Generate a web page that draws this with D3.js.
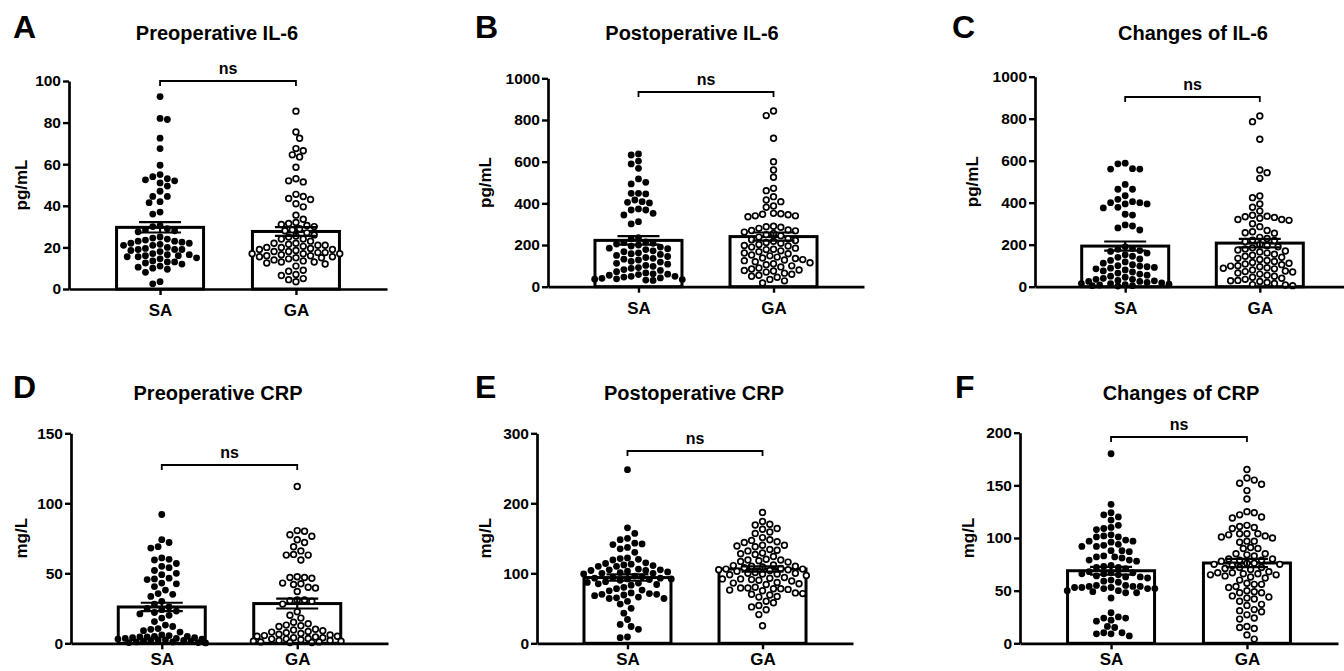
<!DOCTYPE html>
<html>
<head>
<meta charset="utf-8">
<script src="https://cdn.jsdelivr.net/npm/d3@7"></script>
<style>
  html, body { margin: 0; padding: 0; background: #fff; }
  svg { display: block; font-family: "Liberation Sans", Arial, Helvetica, sans-serif; }
</style>
</head>
<body>
<svg id="fig" width="1344" height="671"></svg>
<script>
// ---- data -------------------------------------------------------------
const groups = ["SA", "GA"];

// Preoperative IL-6 (pg/mL)
const preIL6_SA = [92.5,82,81.5,72.5,67.5,59.5,55,54,53,52.5,52,51,49.5,47,44.5,44.5,42,41.5,37,36,30.5,30,29,28.5,28,27.5,25,24.5,24,23.5,23,23,22.5,22,22,21.5,21,21,20,19.5,19,19,19,18.5,18,17,16.5,16.5,16,16,15.5,15.5,15,14.5,13.5,13,13,12.5,12,11,10.5,10,9.5,8,3.5,2.5];
const preIL6_GA = [85.5,75.5,72.5,67.5,66.5,64.5,63.5,58.5,53,52,51.5,45.5,44.5,43.5,43,41,39.5,35.5,33.5,32,31.5,31,30.5,30,29,28.5,28,27,26,25.5,25,24,24,23,22,22,21.5,21,21,20.5,20,20,19.5,19,19,18.5,18,18,17.5,17.5,17,17,17,16.5,16,16,15.5,15.5,15,15,14.5,14,13.5,13,13,12.5,12,11,9,8.5,7,6.5,5,4.5,3.5];

// Postoperative IL-6 (pg/mL)
const postIL6_SA = [637,632,603,589,568,517,501,493,448,448,445,416,408,405,402,373,368,368,352,344,312,301,235,230,215,212,208,205,200,195,190,185,182,178,172,168,162,158,155,150,145,140,136,132,128,122,118,112,108,102,98,92,88,82,78,72,66,62,60,58,55,50,50,46,42,40,38,36,34,32,30];
const postIL6_GA = [843,821,712,600,560,525,472,461,432,416,408,387,381,352,350,348,345,340,340,336,290,288,285,280,272,270,268,262,255,250,245,238,230,225,222,218,212,208,202,198,195,190,185,180,178,172,168,162,158,152,148,142,138,135,130,128,125,120,115,110,105,100,95,90,85,80,78,75,70,65,60,55,50,45,35,28,18];

// Change of IL-6 (pg/mL)
const changeIL6_SA = [588,585,562,560,560,487,464,464,433,416,405,400,400,394,394,378,375,345,341,294,289,280,270,190,182,178,172,168,160,152,145,140,132,125,118,112,105,100,98,95,92,88,85,80,75,70,65,60,55,50,45,40,35,35,30,28,25,25,20,18,15,15,12,10,8,5,5,3];
const changeIL6_GA = [813,786,702,556,543,516,432,424,394,378,360,340,336,333,330,326,320,320,316,300,286,268,262,257,255,235,230,222,220,215,200,195,190,185,180,175,170,165,160,155,150,145,140,135,130,125,120,115,112,108,105,100,98,95,90,88,85,80,75,72,70,65,60,55,50,45,40,35,30,28,25,20,15,10,8,5];

// Preoperative CRP (mg/L)
const preCRP_SA = [92,74,72,69,68,61,60,59.5,57,55,54,52,50,49,46.5,46,45.5,43,42.5,40.5,38,35.5,35,33.5,30,28,26,25,24,23,22,21,20,18,15.5,13,12,10.5,10,9,8,6,5.5,5,5,4.5,4.5,4,4,3.5,3.5,3,3,2.5,2.5,2,2,1.5,1.5,1,1,0.5,0.5,0.3];
const preCRP_GA = [112,80.5,80,77.5,76.5,74,72,69,66,63.5,63,63,59.5,47.5,47,47,46.5,43,42.5,42,40,39.5,37,31,31,30.5,30,28,22.5,20,18,15,14,13,12.5,12,10,9.5,9,8.5,8,7.5,7,6.5,6,5.5,5,5,4.5,4,4,3.5,3,3,2.5,2,2,1.5,1.5,1,1,0.5,0.5];

// Postoperative CRP (mg/L)
const postCRP_SA = [248,165,157,150,148,143,142,141,137,135,130,122,121,120,119,115,114,113,112,111,110,110,106,105,105,104,104,103,102,101,100,100,99,96,95,94,93,93,92,92,91,90,88,87,86,85,84,83,80,78,76,75,72,71,70,70,69,68,66,65,64,64,60,56,50,43,34,27,24,20,9,8];
const postCRP_GA = [187,174,170,169,164,163,159,157,151,148,147,145,144,140,140,139,138,134,133,132,129,128,127,124,120,119,119,118,117,116,112,111,110,110,109,108,107,106,106,105,105,104,103,101,100,100,99,99,98,97,94,93,92,92,91,90,89,87,86,85,84,80,79,79,78,78,77,76,75,72,71,70,69,67,66,60,58,54,52,48,41,25];

// Change of CRP (mg/L)
const changeCRP_SA = [180,132,124,122,120,117,112,110,109,108,103,102,101,101,98,97,97,96,94,93,92,92,88,88,87,83,82,82,81,79,79,78,74,73,72,72,71,68,67,67,66,66,65,64,63,63,62,60,59,58,55,55,54,54,54,53,53,53,52,52,52,50,50,49,48,48,43,29,25,24,24,22,21,16,15,10,10,9,9,7];
const changeCRP_GA = [165,157,155,152,151,145,137,125,124,122,120,119,112,111,110,109,104,104,104,103,102,101,100,97,97,96,91,90,90,85,85,84,83,80,80,79,79,78,76,76,75,75,74,72,72,71,70,68,67,67,66,66,65,65,64,63,62,60,57,56,56,54,53,50,49,48,48,45,44,43,42,40,37,36,32,31,30,27,24,23,16,15,14,8,4];

// y-axis tick values
const ticksPreIL6 = [0, 20, 40, 60, 80, 100];
const ticksIL6 = [0, 200, 400, 600, 800, 1000];
const ticksPreCRP = [0, 50, 100, 150];
const ticksPostCRP = [0, 100, 200, 300];
const ticksChangeCRP = [0, 50, 100, 150, 200];

// ---- panel layout ----------------------------------------------------
const panels = [
  { letter: "A", title: "Preoperative IL-6",  unit: "pg/mL", sa: preIL6_SA,    ga: preIL6_GA,    ticks: ticksPreIL6,
    axisX: 69,   xEnd: 387,  y0: 289,   yTop: 81,    letterX: 13,  titleX: 217,  unitX: 21,  bracketY: 81,  row: 0 },
  { letter: "B", title: "Postoperative IL-6", unit: "pg/mL", sa: postIL6_SA,   ga: postIL6_GA,   ticks: ticksIL6,
    axisX: 548,  xEnd: 864,  y0: 286.7, yTop: 78.3,  letterX: 475, titleX: 692,  unitX: 485, bracketY: 92,  row: 0 },
  { letter: "C", title: "Changes of IL-6",    unit: "pg/mL", sa: changeIL6_SA, ga: changeIL6_GA, ticks: ticksIL6,
    axisX: 1035, xEnd: 1350, y0: 286.7, yTop: 76.7,  letterX: 952, titleX: 1193, unitX: 972, bracketY: 97,  row: 0 },
  { letter: "D", title: "Preoperative CRP",   unit: "mg/L",  sa: preCRP_SA,    ga: preCRP_GA,    ticks: ticksPreCRP,
    axisX: 71,   xEnd: 388,  y0: 643.3, yTop: 433.3, letterX: 13,  titleX: 218,  unitX: 21,  bracketY: 465, row: 1 },
  { letter: "E", title: "Postoperative CRP",  unit: "mg/L",  sa: postCRP_SA,   ga: postCRP_GA,   ticks: ticksPostCRP,
    axisX: 537,  xEnd: 853,  y0: 643.3, yTop: 433.3, letterX: 475, titleX: 694,  unitX: 485, bracketY: 451, row: 1 },
  { letter: "F", title: "Changes of CRP",     unit: "mg/L",  sa: changeCRP_SA, ga: changeCRP_GA, ticks: ticksChangeCRP,
    axisX: 1020, xEnd: 1338, y0: 643.3, yTop: 432.7, letterX: 955, titleX: 1181, unitX: 968, bracketY: 437, row: 1 }
];

const ROW_LETTER_Y = [38, 398];
const ROW_TITLE_Y = [39.5, 400];
const ROW_XLABEL_PAD = [9.4, 3.6];
const BAR_W = 87;
const CAP_HALF = 21;
const DOT_D = 7.3;
const SWARM_HALF = 44;

const svg = d3.select("#fig");

// beeswarm limited to the bar width: a point takes the nearest free slot,
// and where the row is full it settles where it overlaps least
function swarm(values, y, cx) {
  const pts = values.map(v => ({ v, py: y(v) })).sort((a, b) => a.py - b.py);
  const placed = [];
  const step = DOT_D / 2;
  const nSteps = Math.floor(SWARM_HALF / step);
  pts.forEach((p, i) => {
    const sign = i % 2 === 0 ? 1 : -1;
    let best = null, bestDist = -1, chosen = null;
    for (let k = 0; k <= nSteps * 2; k++) {
      const off = (k === 0 ? 0 : (k % 2 === 1 ? sign : -sign) * Math.ceil(k / 2) * step);
      const px = cx + off;
      let minD = Infinity;
      for (const q of placed) {
        const dx = q.px - px, dy = q.py - p.py;
        const dd = Math.sqrt(dx * dx + dy * dy);
        if (dd < minD) minD = dd;
      }
      if (minD >= DOT_D * 0.96) { chosen = px; break; }
      if (minD > bestDist) { bestDist = minD; best = px; }
    }
    p.px = chosen !== null ? chosen : best;
    placed.push(p);
  });
  return placed;
}

panels.forEach(P => {
  const g = svg.append("g");
  const maxV = P.ticks[P.ticks.length - 1];
  const y = d3.scaleLinear().domain([0, maxV]).range([P.y0, P.yTop]);
  const x = d3.scalePoint().domain(groups).range([P.axisX, P.xEnd]).padding(0.67);

  // panel letter and title
  g.append("text").attr("x", P.letterX).attr("y", ROW_LETTER_Y[P.row])
    .attr("font-size", 32).attr("font-weight", "bold").text(P.letter);
  g.append("text").attr("x", P.titleX).attr("y", ROW_TITLE_Y[P.row])
    .attr("text-anchor", "middle").attr("font-size", 20).attr("font-weight", "bold").text(P.title);

  // y-axis unit
  g.append("text")
    .attr("transform", `translate(${P.unitX},${(P.y0 + P.yTop) / 2}) rotate(-90)`)
    .attr("text-anchor", "middle").attr("dy", "0.35em")
    .attr("font-size", 17).attr("font-weight", "bold").text(P.unit);

  const sets = [P.sa, P.ga];

  // bars (mean) with white fill
  sets.forEach((vals, i) => {
    const m = d3.mean(vals);
    const cx = x(groups[i]);
    g.append("rect")
      .attr("x", cx - BAR_W / 2).attr("y", y(m))
      .attr("width", BAR_W).attr("height", P.y0 - y(m))
      .attr("fill", "#fff").attr("stroke", "#000").attr("stroke-width", 3);
  });

  // individual points
  sets.forEach((vals, i) => {
    const cx = x(groups[i]);
    const pts = swarm(vals, y, cx);
    const open = i === 1;
    g.append("g").selectAll("circle").data(pts).join("circle")
      .attr("cx", d => d.px).attr("cy", d => d.py)
      .attr("r", open ? 2.85 : 3.4)
      .attr("fill", open ? "#fff" : "#000")
      .attr("stroke", "#000")
      .attr("stroke-width", open ? 1.7 : 0);
  });

  // mean ± SEM
  sets.forEach((vals, i) => {
    const m = d3.mean(vals);
    const sem = d3.deviation(vals) / Math.sqrt(vals.length);
    const cx = x(groups[i]);
    const eb = g.append("g").attr("stroke", "#000").attr("stroke-width", 2.2);
    eb.append("line").attr("x1", cx).attr("x2", cx).attr("y1", y(m + sem)).attr("y2", y(m - sem));
    [m + sem, m - sem].forEach(v => {
      eb.append("line").attr("x1", cx - CAP_HALF).attr("x2", cx + CAP_HALF).attr("y1", y(v)).attr("y2", y(v));
    });
  });

  // axes
  const yAxis = g.append("g").attr("transform", `translate(${P.axisX},0)`)
    .call(d3.axisLeft(y).tickValues(P.ticks).tickSize(6).tickSizeOuter(0).tickPadding(2).tickFormat(d3.format("d")));
  const xAxis = g.append("g").attr("transform", `translate(0,${P.y0})`)
    .call(d3.axisBottom(x).tickSize(6).tickSizeOuter(0).tickPadding(ROW_XLABEL_PAD[P.row]));
  [yAxis, xAxis].forEach(a => {
    a.select(".domain").attr("stroke", "#000").attr("stroke-width", 2.7);
    a.selectAll(".tick line").attr("stroke", "#000").attr("stroke-width", 2.4);
    a.selectAll(".tick text").attr("fill", "#000").attr("font-weight", "bold")
      .attr("font-family", "Liberation Sans, Arial, sans-serif");
  });
  yAxis.selectAll(".tick text").attr("font-size", 15.5);
  xAxis.selectAll(".tick text").attr("font-size", 17);

  // significance bracket
  const c1 = x(groups[0]), c2 = x(groups[1]), by = P.bracketY;
  g.append("path")
    .attr("d", `M${c1},${by + 5}V${by}H${c2}V${by + 5}`)
    .attr("fill", "none").attr("stroke", "#000").attr("stroke-width", 1.8);
  g.append("text").attr("x", (c1 + c2) / 2).attr("y", by - 7)
    .attr("text-anchor", "middle").attr("font-size", 16).attr("font-weight", "bold").text("ns");
});
</script>
</body>
</html>
